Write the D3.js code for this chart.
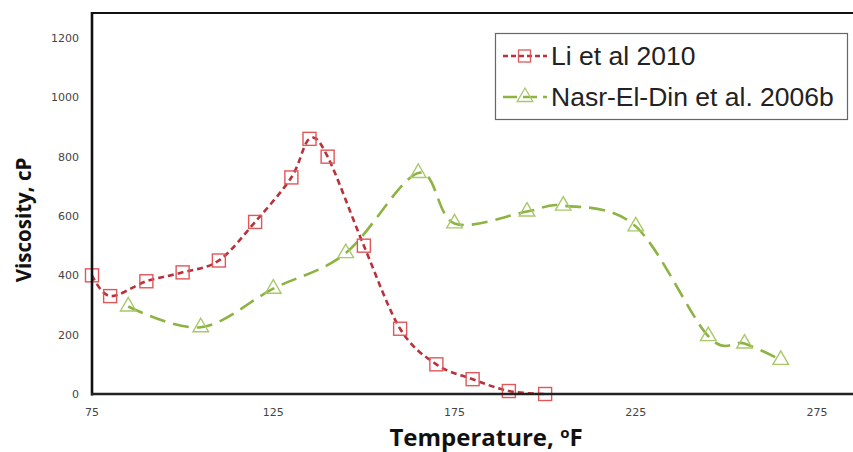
<!DOCTYPE html>
<html><head><meta charset="utf-8">
<script src="https://cdn.jsdelivr.net/npm/d3@7"></script>
<style>body{margin:0;background:#fff}svg{display:block}</style>
</head><body>
<svg id="c" width="853" height="452"></svg>
<script>
const liTemp = [75, 80, 90, 100, 110, 120, 130, 135, 140, 150, 160, 170, 180, 190, 200];
const liVisc = [400, 330, 380, 410, 450, 580, 730, 860, 800, 500, 220, 100, 50, 10, 0];
const nasrTemp = [85, 105, 125, 145, 165, 175, 195, 205, 225, 245, 255, 265];
const nasrVisc = [295, 225, 355, 475, 745, 575, 615, 635, 565, 195, 170, 115];
const xTicks = [75, 125, 175, 225, 275];
const yTicks = [0, 200, 400, 600, 800, 1000, 1200];
const seriesNames = ["Li et al 2010", "Nasr-El-Din et al. 2006b"];

const svg = d3.select("#c");
const x = d3.scaleLinear().domain([75, 275]).range([92, 817]);
const y = d3.scaleLinear().domain([0, 1200]).range([394, 38]);
const yTop = y(1284);

// frame
svg.append("line").attr("x1", x(75)).attr("x2", 853).attr("y1", yTop).attr("y2", yTop)
  .attr("stroke", "#111").attr("stroke-width", 2);

// y tick labels
svg.append("g").selectAll("text").data(yTicks).join("text")
  .attr("x", 79).attr("y", d => y(d)).attr("dy", "0.35em").attr("text-anchor", "end")
  .attr("font-family", "DejaVu Sans").attr("font-size", 11).attr("fill", "#444").text(d => d);
// x tick labels
svg.append("g").selectAll("text").data(xTicks).join("text")
  .attr("x", d => x(d)).attr("y", 416).attr("text-anchor", "middle")
  .attr("font-family", "DejaVu Sans").attr("font-size", 11).attr("fill", "#444").text(d => d);

const curve = d3.curveCardinal.tension(0);
const line = d3.line().x(d => x(d[0])).y(d => y(d[1])).curve(curve);
const li = liTemp.map((t, i) => [t, liVisc[i]]);
const nasr = nasrTemp.map((t, i) => [t, nasrVisc[i]]);

const redLine = "#b9313a", redMark = "#e0575a";
const greenLine = "#8db342", greenMark = "#a8c86a";

svg.append("path").datum(nasr).attr("d", line).attr("fill", "none")
  .attr("stroke", greenLine).attr("stroke-width", 2.6).attr("stroke-dasharray", "16 8");
svg.append("path").datum(li).attr("d", line).attr("fill", "none")
  .attr("stroke", redLine).attr("stroke-width", 2.6).attr("stroke-dasharray", "6 4");

const tri = d3.symbol().type(d3.symbolTriangle).size(105);
svg.append("g").selectAll("path").data(nasr).join("path")
  .attr("d", tri).attr("transform", d => `translate(${x(d[0])},${y(d[1])})`)
  .attr("fill", "none").attr("stroke", greenMark).attr("stroke-width", 1.4);
const s = 13;
svg.append("g").selectAll("rect").data(li).join("rect")
  .attr("x", d => x(d[0]) - s / 2).attr("y", d => y(d[1]) - s / 2).attr("width", s).attr("height", s)
  .attr("fill", "none").attr("stroke", redMark).attr("stroke-width", 1.4);

// axes lines
svg.append("line").attr("x1", x(75)).attr("x2", x(75)).attr("y1", yTop - 1).attr("y2", y(0) + 1.5)
  .attr("stroke", "#111").attr("stroke-width", 2.6);
svg.append("line").attr("x1", x(75) - 1).attr("x2", 853).attr("y1", y(0)).attr("y2", y(0))
  .attr("stroke", "#222").attr("stroke-width", 2.6);

// axis titles
svg.append("text").attr("transform", "translate(31,220) rotate(-90)").attr("text-anchor", "middle")
  .attr("font-family", "Open Sans").attr("font-weight", "bold").attr("font-size", 20.5).attr("fill", "#111")
  .text("Viscosity, cP");
const xt = svg.append("text").attr("x", 486).attr("y", 446).attr("text-anchor", "middle")
  .attr("font-family", "Open Sans").attr("font-weight", "bold").attr("font-size", 24).attr("fill", "#111");
xt.append("tspan").text("Temperature, ");
xt.append("tspan").attr("font-size", 15).attr("dy", -8).text("o");
xt.append("tspan").attr("dy", 8).text("F");

// legend
const lg = svg.append("g");
lg.append("rect").attr("x", 495.5).attr("y", 33.5).attr("width", 352).attr("height", 86)
  .attr("fill", "#fff").attr("stroke", "#666").attr("stroke-width", 1.2);
const rows = [
  {name: seriesNames[0], y: 56, base: 65, lc: redLine, mc: redMark, dash: "5 3", kind: "sq"},
  {name: seriesNames[1], y: 97, base: 106, lc: greenLine, mc: greenMark, dash: "14 6", kind: "tri"}
];
rows.forEach(r => {
  lg.append("line").attr("x1", 503).attr("x2", 547).attr("y1", r.y).attr("y2", r.y)
    .attr("stroke", r.lc).attr("stroke-width", 2.4).attr("stroke-dasharray", r.dash);
  if (r.kind === "sq") {
    lg.append("rect").attr("x", 518.5).attr("y", r.y - 6).attr("width", 12).attr("height", 12)
      .attr("fill", "none").attr("stroke", r.mc).attr("stroke-width", 1.3);
  } else {
    lg.append("path").attr("d", tri).attr("transform", `translate(525,${r.y})`)
      .attr("fill", "none").attr("stroke", r.mc).attr("stroke-width", 1.3);
  }
  lg.append("text").attr("x", 551).attr("y", r.base)
    .attr("font-family", "Liberation Sans").attr("font-size", 26.5).attr("fill", "#222").text(r.name);
});
</script>
</body></html>
